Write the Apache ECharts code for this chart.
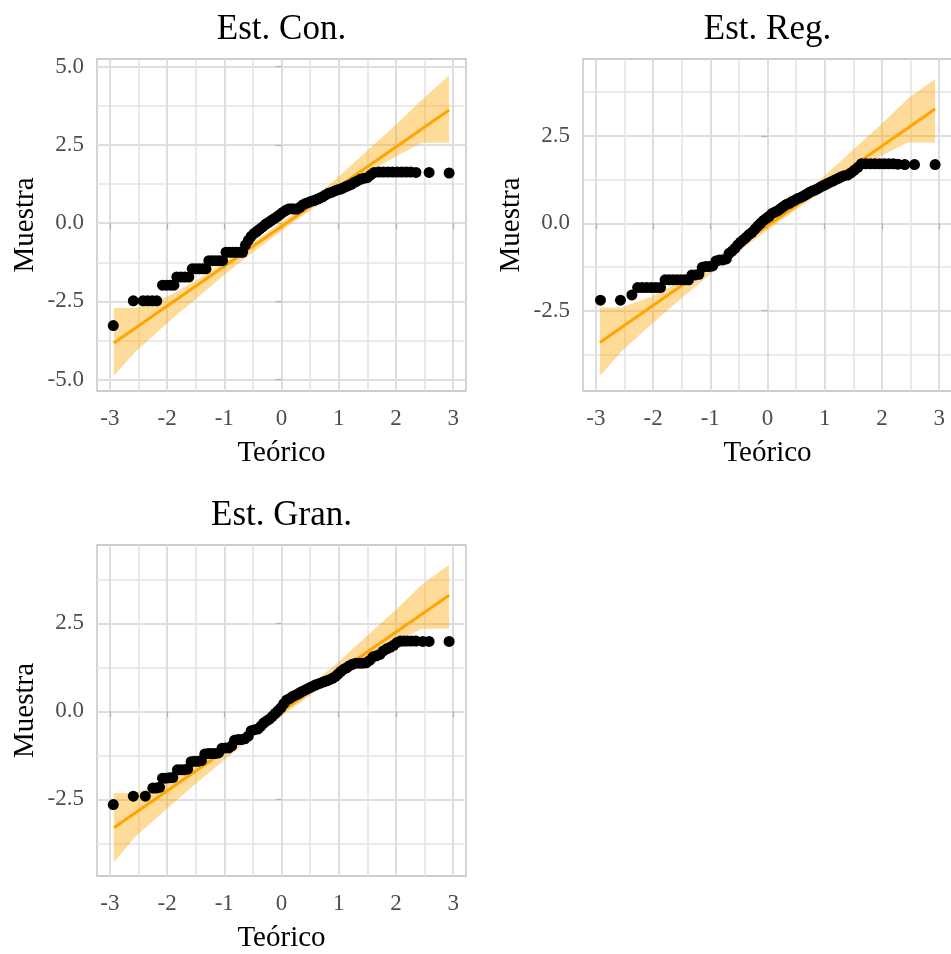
<!DOCTYPE html>
<html><head><meta charset="utf-8">
<script src="https://cdn.jsdelivr.net/npm/echarts@6/dist/echarts.min.js"></script>
<style>html,body{margin:0;padding:0;background:#fff}#c{width:951px;height:954px}</style>
</head><body><div id="c"></div>
<script>
// ---- data ----
const titulos = ['Est. Con.', 'Est. Reg.', 'Est. Gran.'];
const xTicks = [-3, -2, -1, 0, 1, 2, 3];
const xMinor = [-2.5, -1.5, -0.5, 0.5, 1.5, 2.5];
const yTicksCon = [-5, -2.5, 0, 2.5, 5];
const yTicksOtros = [-2.5, 0, 2.5];
const yMinor = [-3.75, -1.25, 1.25, 3.75];

const conTeo = [-2.94,-2.59,-2.42,-2.34,-2.26,-2.18,-2.08,-2.01,-1.94,-1.88,-1.83,-1.76,-1.69,-1.62,-1.56,-1.50,-1.44,-1.38,-1.32,-1.27,-1.21,-1.15,-1.09,-1.03,-0.97,-0.91,-0.85,-0.79,-0.73,-0.68,
  -0.63,-0.58,-0.53,-0.48,-0.43,-0.38,-0.33,-0.28,-0.23,-0.18,-0.13,-0.08,-0.03,0.02,0.07,0.12,0.17,0.22,0.27,0.32,0.37,0.42,0.47,0.52,0.57,0.62,0.67,0.72,0.77,0.82,0.87,0.92,0.97,1.02,1.07,1.12,1.17,1.22,1.27,1.32,
  1.38,1.44,1.50,1.56,1.62,1.70,1.78,1.86,1.94,2.02,2.10,2.18,2.26,2.35,2.58,2.93];
const conMue = [-3.27,-2.48,-2.48,-2.48,-2.48,-2.48,-1.98,-1.98,-1.98,-1.98,-1.72,-1.72,-1.72,-1.72,-1.46,-1.46,-1.46,-1.46,-1.46,-1.20,-1.20,-1.20,-1.20,-1.20,-0.93,-0.93,-0.93,-0.93,-0.93,-0.93,
  -0.70,-0.55,-0.42,-0.33,-0.26,-0.19,-0.12,-0.04,0.02,0.08,0.14,0.20,0.27,0.34,0.40,0.45,0.46,0.45,0.45,0.50,0.58,0.63,0.66,0.70,0.72,0.76,0.80,0.84,0.90,0.95,0.98,1.02,1.06,1.08,1.12,1.16,1.20,1.24,1.30,1.34,
  1.40,1.43,1.45,1.54,1.62,1.63,1.63,1.63,1.63,1.63,1.63,1.63,1.63,1.62,1.62,1.60];

const regTeo = [-2.92,-2.57,-2.37,-2.27,-2.19,-2.11,-2.03,-1.95,-1.87,-1.79,-1.72,-1.65,-1.58,-1.51,-1.44,-1.38,-1.32,-1.26,-1.20,-1.14,-1.08,-1.02,-0.96,-0.90,-0.84,-0.78,-0.72,
  -0.67,-0.62,-0.57,-0.52,-0.47,-0.42,-0.37,-0.32,-0.27,-0.22,-0.17,-0.12,-0.07,-0.02,0.03,0.08,0.13,0.18,0.23,0.28,0.33,0.38,0.43,0.48,0.53,0.58,0.63,0.68,0.73,0.78,0.83,0.88,0.93,0.98,1.03,1.08,1.13,1.18,1.23,1.28,
  1.34,1.40,1.46,1.52,1.58,1.64,1.72,1.80,1.88,1.96,2.04,2.12,2.20,2.28,2.40,2.57,2.93];
const regMue = [-2.20,-2.20,-2.05,-1.84,-1.84,-1.84,-1.84,-1.84,-1.84,-1.62,-1.62,-1.62,-1.62,-1.62,-1.62,-1.62,-1.48,-1.48,-1.46,-1.26,-1.24,-1.24,-1.22,-1.08,-1.05,-1.05,-1.02,
  -0.86,-0.80,-0.72,-0.62,-0.54,-0.47,-0.40,-0.32,-0.26,-0.17,-0.08,0.00,0.08,0.14,0.20,0.28,0.32,0.36,0.42,0.48,0.54,0.57,0.62,0.66,0.71,0.74,0.78,0.83,0.88,0.92,0.95,0.99,1.04,1.08,1.12,1.16,1.20,1.24,1.28,1.32,
  1.36,1.38,1.44,1.52,1.60,1.70,1.70,1.70,1.70,1.70,1.70,1.70,1.70,1.69,1.68,1.68,1.68];

const granTeo = [-2.94,-2.59,-2.38,-2.25,-2.19,-2.13,-2.08,-2.02,-1.96,-1.90,-1.82,-1.76,-1.70,-1.64,-1.58,-1.52,-1.46,-1.40,-1.34,-1.28,-1.22,-1.16,-1.10,-1.04,-0.98,-0.92,-0.87,-0.82,-0.76,-0.70,-0.64,-0.58,
  -0.53,-0.47,-0.41,-0.36,-0.31,-0.26,-0.21,-0.16,-0.11,-0.06,-0.01,0.04,0.09,0.14,0.19,0.24,0.29,0.34,0.39,0.44,0.49,0.54,0.59,0.64,0.69,0.74,0.79,0.84,0.89,0.94,0.99,1.04,1.09,1.14,1.19,1.24,
  1.30,1.36,1.42,1.48,1.54,1.60,1.66,1.72,1.78,1.84,1.90,1.96,2.02,2.08,2.14,2.20,2.27,2.35,2.47,2.58,2.93];
const granMue = [-2.65,-2.41,-2.41,-2.18,-2.18,-2.16,-1.90,-1.90,-1.89,-1.88,-1.66,-1.66,-1.66,-1.64,-1.43,-1.42,-1.42,-1.40,-1.21,-1.20,-1.20,-1.20,-1.18,-1.05,-1.04,-1.04,-0.98,-0.82,-0.80,-0.80,-0.78,-0.70,
  -0.55,-0.52,-0.50,-0.42,-0.33,-0.27,-0.22,-0.14,-0.06,0.02,0.10,0.22,0.32,0.36,0.42,0.46,0.50,0.55,0.59,0.63,0.67,0.71,0.75,0.78,0.81,0.84,0.87,0.90,0.94,0.99,1.06,1.14,1.20,1.24,1.30,1.34,
  1.37,1.37,1.37,1.38,1.45,1.55,1.58,1.62,1.72,1.78,1.82,1.88,1.96,2.00,2.00,2.00,2.00,2.00,1.99,1.99,1.99];

// reference line (qq line) end points
const lineaTeo = [-2.93, 2.93];
const conLinea = [-3.83, 3.61];
const regLinea = [-3.41, 3.27];
const granLinea = [-3.31, 3.30];

// confidence band
const bandaTeo = [-2.93, -2.55, -2.0, -1.5, -1.0, -0.5, 0, 0.5, 1.0, 1.5, 2.0, 2.45, 2.93];
const conInf  = [-4.87, -4.10, -3.20, -2.42, -1.66, -0.93, -0.25, 0.40, 1.03, 1.61, 2.13, 2.57, 2.57];
const conSup  = [-2.71, -2.71, -2.35, -1.84, -1.25, -0.62, 0.03, 0.72, 1.48, 2.32, 3.14, 3.93, 4.72];
const regInf  = [-4.37, -3.66, -2.85, -2.14, -1.46, -0.80, -0.20, 0.39, 0.95, 1.48, 1.94, 2.31, 2.31];
const regSup  = [-2.41, -2.41, -2.08, -1.62, -1.09, -0.53, 0.06, 0.68, 1.36, 2.11, 2.85, 3.56, 4.13];
const granInf = [-4.29, -3.56, -2.76, -2.06, -1.38, -0.73, -0.13, 0.45, 1.00, 1.53, 1.98, 2.35, 2.35];
const granSup = [-2.32, -2.32, -1.99, -1.54, -1.01, -0.46, 0.13, 0.74, 1.41, 2.16, 2.89, 3.60, 4.17];

// ---- chart ----
const SERIF = '"Liberation Serif", "DejaVu Serif", serif';
const paneles = [
  {grid:{left:97, top:59, width:369, height:332}, y:[-5.36, 5.24], yTicks:yTicksCon, teo:conTeo, mue:conMue, linea:conLinea, inf:conInf, sup:conSup},
  {grid:{left:583, top:59, width:369, height:332}, y:[-4.8, 4.7], yTicks:yTicksOtros, teo:regTeo, mue:regMue, linea:regLinea, inf:regInf, sup:regSup},
  {grid:{left:97, top:545, width:369, height:331}, y:[-4.68, 4.73], yTicks:yTicksOtros, teo:granTeo, mue:granMue, linea:granLinea, inf:granInf, sup:granSup}
];

const option = {animation:false, backgroundColor:'#fff', title:[], grid:[], xAxis:[], yAxis:[], series:[]};
paneles.forEach((p, i) => {
  option.grid.push(Object.assign({show:true, borderColor:'#bdbdbd', borderWidth:1.3, backgroundColor:'transparent', containLabel:false, outerBoundsMode:'none'}, p.grid));
  option.title.push({text:titulos[i], left:p.grid.left + p.grid.width/2, top:p.grid.top - 47, textAlign:'center', padding:0,
    textStyle:{fontFamily:SERIF, fontSize:35, fontWeight:'normal', color:'#000'}});
  // main axes
  option.xAxis.push({type:'value', gridIndex:i, min:-3.225, max:3.225,
    name:'Teórico', nameLocation:'middle', nameGap:48, nameTextStyle:{fontFamily:SERIF, fontSize:29, color:'#000'},
    axisLine:{show:false},
    axisTick:{show:true, length:6, lineStyle:{color:'#b3b3b3', width:1.3}, customValues:xTicks},
    axisLabel:{customValues:xTicks, fontFamily:SERIF, fontSize:23, color:'#4d4d4d', margin:16, formatter:v => String(v)},
    splitLine:{show:true, lineStyle:{color:'#dedede', width:2}}});
  option.xAxis.push({type:'value', gridIndex:i, min:-3.225, max:3.225, position:'bottom',
    axisLine:{show:false}, axisTick:{show:false, customValues:xMinor}, axisLabel:{show:false, customValues:xMinor},
    splitLine:{show:true, lineStyle:{color:'#e4e4e4', width:1.6}}});
  option.yAxis.push({type:'value', gridIndex:i, min:p.y[0], max:p.y[1],
    name:'Muestra', nameLocation:'middle', nameGap:57, nameRotate:90, nameTextStyle:{fontFamily:SERIF, fontSize:29, color:'#000'},
    axisLine:{show:false},
    axisTick:{show:true, length:6, lineStyle:{color:'#b3b3b3', width:1.3}, customValues:p.yTicks},
    axisLabel:{customValues:p.yTicks, fontFamily:SERIF, fontSize:23, color:'#4d4d4d', margin:13, formatter:v => v.toFixed(1)},
    splitLine:{show:true, lineStyle:{color:'#dedede', width:2}}});
  option.yAxis.push({type:'value', gridIndex:i, min:p.y[0], max:p.y[1], position:'left',
    axisLine:{show:false}, axisTick:{show:false, customValues:yMinor}, axisLabel:{show:false, customValues:yMinor},
    splitLine:{show:true, lineStyle:{color:'#e4e4e4', width:1.6}}});
  const xi = 2*i, yi = 2*i;
  // band
  option.series.push({type:'custom', xAxisIndex:xi, yAxisIndex:yi, silent:true, z:1, clip:true,
    data:[[bandaTeo[0], p.inf[0]]],
    renderItem:(params, api) => {
      const pts = [];
      for (let j = 0; j < bandaTeo.length; j++) pts.push(api.coord([bandaTeo[j], p.inf[j]]));
      for (let j = bandaTeo.length - 1; j >= 0; j--) pts.push(api.coord([bandaTeo[j], p.sup[j]]));
      return {type:'polygon', shape:{points:pts}, style:{fill:'rgba(255,165,0,0.4)'}};
    }});
  // qq line
  option.series.push({type:'line', xAxisIndex:xi, yAxisIndex:yi, silent:true, z:2, symbol:'none',
    data:lineaTeo.map((x, j) => [x, p.linea[j]]), lineStyle:{color:'#FFA500', width:3}});
  // points
  option.series.push({type:'scatter', xAxisIndex:xi, yAxisIndex:yi, silent:true, z:3, symbolSize:11,
    data:p.teo.map((x, j) => [x, p.mue[j]]), itemStyle:{color:'#000', opacity:1}});
});

const chart = echarts.init(document.getElementById('c'), null, {renderer:'canvas'});
chart.setOption(option);
</script>
</body></html>
